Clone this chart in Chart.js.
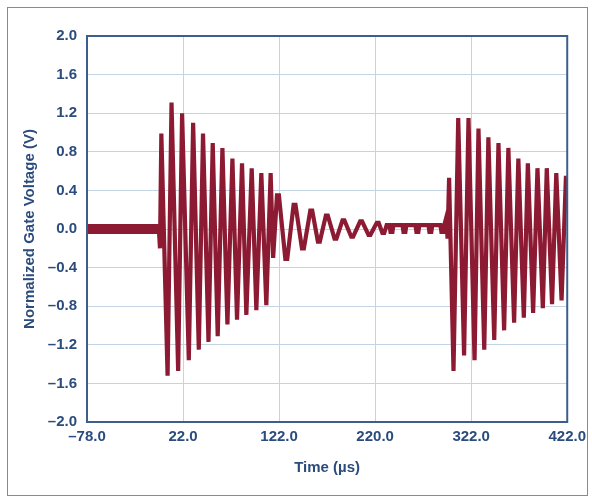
<!DOCTYPE html>
<html>
<head>
<meta charset="utf-8">
<script src="https://cdn.jsdelivr.net/npm/chart.js@4/dist/chart.umd.min.js"></script>
<style>
  html, body { margin: 0; padding: 0; background: #ffffff; }
  #wrap { position: relative; width: 592px; height: 502px; }
  #frame { position: absolute; left: 7px; top: 7px; width: 581px; height: 489px; border: 1px solid #8a8a8a; box-sizing: border-box; }
  #c { position: absolute; left: 0; top: 0; }
</style>
</head>
<body>
<div id="wrap">
  <div id="frame"></div>
  <canvas id="c" width="592" height="502"></canvas>
</div>
<script>
// Gate drive waveform: time in microseconds, normalized gate voltage in volts
const timeUs = [
  -3.2, -2.0, -0.6, 5.9, 10.0, 16.9, 21.0, 28.0, 32.5, 38.4, 42.8, 48.5, 52.9, 58.1,
  63.0, 68.2, 73.4, 78.2, 83.4, 87.9, 93.5, 98.3, 103.5, 108.7, 113.2, 115.8,
  119.8, 121.8, 128.5, 130.5, 137.1, 139.1, 145.8, 147.8, 154.5, 156.5, 162.4, 164.4,
  170.7, 172.7, 179.7, 181.7, 188.0, 190.0, 197.1, 199.1, 206.4, 208.4, 215.1, 217.1,
  223.7, 225.7, 229.5, 231.5, 234.0,
  237.0, 238.0, 240.0, 241.0,
  250.5, 251.5, 253.5, 254.5,
  264.0, 265.0, 267.0, 268.0,
  277.5, 278.5, 280.5, 281.5,
  290.0, 291.0, 293.0, 294.0,
  296.1, 297.4, 299.0, 303.6, 308.5, 314.6, 319.2, 325.5, 329.6, 335.6, 339.9,
  346.0, 350.4, 356.3, 360.7, 366.7, 371.1, 376.8, 381.0, 386.5, 391.0, 396.6,
  400.7, 406.2, 410.6, 416.1, 420.6, 421.5
];
const gateV = [
  0.0, -0.20, 0.99, -1.52, 1.31, -1.47, 1.20, -1.36, 1.10, -1.25, 0.99, -1.17, 0.89, -1.11,
  0.84, -0.99, 0.73, -0.94, 0.68, -0.89, 0.63, -0.84, 0.58, -0.79, 0.58, -0.30,
  0.35, 0.35, -0.31, -0.31, 0.25, 0.25, -0.20, -0.20, 0.19, 0.19, -0.13, -0.13,
  0.14, 0.14, -0.10, -0.10, 0.09, 0.09, -0.08, -0.08, 0.08, 0.08, -0.06, -0.06,
  0.065, 0.065, -0.04, -0.04, 0.04,
  0.04, -0.03, -0.03, 0.04,
  0.04, -0.03, -0.03, 0.04,
  0.04, -0.03, -0.03, 0.04,
  0.04, -0.03, -0.03, 0.04,
  0.04, -0.03, -0.03, 0.04,
  0.12, -0.10, 0.53, -1.47, 1.15, -1.31, 1.15, -1.36, 1.04, -1.25, 0.95,
  -1.15, 0.89, -1.05, 0.84, -0.97, 0.73, -0.92, 0.68, -0.87, 0.63, -0.82,
  0.63, -0.78, 0.58, -0.74, 0.53, 0.53
];

// Idle period before the first burst (noise band around 0 V)
const idleTimeUs = [-78.0, -3.2];
const idleV = [0.0, 0.0];

// Axis ticks
const xTickValues = [-78, 22, 122, 222, 322, 422];
const xTickLabels = ['\u201378.0', '22.0', '122.0', '220.0', '322.0', '422.0'];
const yTickValues = [-2.0, -1.6, -1.2, -0.8, -0.4, 0.0, 0.4, 0.8, 1.2, 1.6, 2.0];

const toPoints = (xs, ys) => xs.map((x, i) => ({ x: x, y: ys[i] }));
const fmtY = v => {
  const s = (Math.abs(v) < 1e-9 ? 0 : v).toFixed(1);
  return s.replace('-', '\u2013');
};

const TEXT = '#2b4c7c';
const WAVE = '#8c1a32';
const GRID = '#c3d4e4';
const AXIS = '#3c5e8c';
const FONT = { family: "'Liberation Sans', Arial, sans-serif", size: 15, weight: 'bold' };

const plotFrame = {
  id: 'plotFrame',
  afterDatasetsDraw(chart) {
    const a = chart.chartArea;
    const ctx = chart.ctx;
    ctx.save();
    ctx.strokeStyle = AXIS;
    ctx.lineWidth = 2;
    ctx.strokeRect(a.left, a.top, a.right - a.left, a.bottom - a.top);
    ctx.restore();
  }
};

new Chart(document.getElementById('c'), {
  type: 'line',
  data: {
    datasets: [
      {
        label: 'Idle',
        data: toPoints(idleTimeUs, idleV),
        borderColor: WAVE,
        borderWidth: 10,
        pointRadius: 0,
        tension: 0
      },
      {
        label: 'Gate voltage',
        data: toPoints(timeUs, gateV),
        borderColor: WAVE,
        borderWidth: 4.2,
        pointRadius: 0,
        tension: 0
      }
    ]
  },
  options: {
    responsive: false,
    animation: false,
    layout: { padding: { left: 0, top: 36, right: 24, bottom: 0 } },
    plugins: { legend: { display: false }, tooltip: { enabled: false } },
    scales: {
      x: {
        type: 'linear',
        min: -78,
        max: 422,
        afterBuildTicks: s => { s.ticks = xTickValues.map(v => ({ value: v })); },
        afterFit: s => { s.height = 80; },
        grid: { color: GRID, lineWidth: 1, drawTicks: false },
        border: { display: false },
        ticks: {
          color: TEXT, font: FONT, padding: 6, maxRotation: 0, autoSkip: false,
          callback: (v, i) => xTickLabels[i]
        },
        title: {
          display: true, text: 'Time (\u00b5s)', color: TEXT, font: FONT,
          padding: { top: 0, bottom: 25 }
        }
      },
      y: {
        type: 'linear',
        min: -2,
        max: 2,
        afterBuildTicks: s => { s.ticks = yTickValues.map(v => ({ value: v })); },
        afterFit: s => { s.width = 87; },
        grid: { color: GRID, lineWidth: 1, drawTicks: false },
        border: { display: false },
        ticks: { color: TEXT, font: FONT, padding: 10, autoSkip: false, callback: v => fmtY(v) },
        title: {
          display: true, text: 'Normalized Gate Voltage (V)', color: TEXT, font: FONT,
          padding: { top: 21, bottom: 0 }
        }
      }
    }
  },
  plugins: [plotFrame]
});
</script>
</body>
</html>
